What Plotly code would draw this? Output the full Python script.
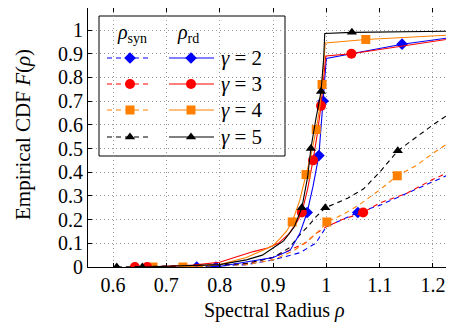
import plotly.graph_objects as go

# ---------------- data ----------------
gammas = [2, 3, 4, 5]
colors = {2: "#0000ff", 3: "#ff0000", 4: "#ff8000", 5: "#000000"}
symbols = {2: "diamond", 3: "circle", 4: "square", 5: "triangle-up"}
msize = {2: 9, 3: 10, 4: 9, 5: 9}

# rho_rd (solid) empirical CDFs
rd_x = {
    5: [0.655, 0.70, 0.80, 0.85, 0.88, 0.90, 0.92, 0.94, 0.954, 0.965, 0.971, 0.98, 0.99, 0.995, 0.997, 1.048, 1.24],
    4: [0.731, 0.80, 0.85, 0.88, 0.90, 0.913, 0.925, 0.936, 0.95, 0.962, 0.972, 0.981, 0.988, 0.992, 0.996, 0.998, 1.074, 1.24],
    3: [0.664, 0.75, 0.80, 0.863, 0.89, 0.91, 0.93, 0.945, 0.954, 0.965, 0.975, 0.983, 0.990, 0.995, 0.999, 1.047, 1.24],
    2: [0.793, 0.85, 0.90, 0.932, 0.95, 0.964, 0.975, 0.986, 0.994, 0.998, 1.0, 1.142, 1.24],
}
rd_F = {
    5: [0.0, 0.003, 0.01, 0.03, 0.05, 0.08, 0.11, 0.17, 0.25, 0.38, 0.50, 0.62, 0.74, 0.88, 0.985, 0.99, 0.995],
    4: [0.0, 0.01, 0.04, 0.07, 0.09, 0.12, 0.15, 0.19, 0.28, 0.39, 0.48, 0.58, 0.68, 0.77, 0.90, 0.945, 0.96, 0.98],
    3: [0.0, 0.008, 0.02, 0.065, 0.08, 0.10, 0.14, 0.19, 0.23, 0.33, 0.45, 0.56, 0.68, 0.80, 0.89, 0.90, 0.965],
    2: [0.0, 0.02, 0.04, 0.07, 0.14, 0.23, 0.34, 0.47, 0.70, 0.82, 0.88, 0.94, 0.97],
}
rd_marks = {5: [0, 8, 10, 12, 15], 4: [0, 7, 9, 11, 13, 16], 3: [0, 8, 10, 12, 15], 2: [0, 5, 7, 8, 11]}

# rho_syn (dashed) empirical CDFs
syn_x = {
    5: [0.607, 0.70, 0.80, 0.85, 0.90, 0.93, 0.95, 0.965, 0.98, 0.998, 1.02, 1.04, 1.07, 1.10, 1.134, 1.17, 1.20, 1.24],
    4: [0.675, 0.75, 0.85, 0.90, 0.94, 0.97, 0.99, 1.001, 1.03, 1.06, 1.10, 1.133, 1.17, 1.20, 1.24],
    3: [0.641, 0.75, 0.85, 0.90, 0.93, 0.96, 0.98, 1.0, 1.03, 1.069, 1.10, 1.15, 1.20, 1.24],
    2: [0.757, 0.85, 0.90, 0.95, 0.98, 1.0, 1.03, 1.059, 1.10, 1.15, 1.20, 1.24],
}
syn_F = {
    5: [0.0, 0.003, 0.008, 0.015, 0.04, 0.08, 0.135, 0.17, 0.21, 0.25, 0.27, 0.29, 0.33, 0.40, 0.49, 0.55, 0.60, 0.66],
    4: [0.0, 0.002, 0.01, 0.03, 0.07, 0.12, 0.16, 0.19, 0.22, 0.26, 0.325, 0.385, 0.43, 0.48, 0.54],
    3: [0.0, 0.003, 0.015, 0.04, 0.07, 0.10, 0.14, 0.17, 0.20, 0.23, 0.27, 0.31, 0.37, 0.41],
    2: [0.0, 0.01, 0.03, 0.06, 0.10, 0.17, 0.20, 0.23, 0.26, 0.31, 0.36, 0.40],
}
syn_marks = {5: [0, 9, 14], 4: [0, 7, 11], 3: [0, 9], 2: [0, 7]}

x_ticks = [0.6, 0.7, 0.8, 0.9, 1.0, 1.1, 1.2]
x_tick_labels = ["0.6", "0.7", "0.8", "0.9", "1", "1.1", "1.2"]
y_ticks = [0, 0.1, 0.2, 0.3, 0.4, 0.5, 0.6, 0.7, 0.8, 0.9, 1.0]
y_tick_labels = ["0", "0.1", "0.2", "0.3", "0.4", "0.5", "0.6", "0.7", "0.8", "0.9", "1"]

FONT = "Liberation Serif"
OFF = 8  # page body margin of the browser
W, H = 454 - OFF, 329 - OFF
# plot area in window pixels: left 88, top 8, right 454, bottom 267
PL, PT, PR, PB = 88, 8, 454, 267
L, T, R, B = PL - OFF, PT - OFF, 0, (H + OFF) - PB


def xf(px):
    return (px - PL) / (PR - PL)


def yf(py):
    return (PB - py) / (PB - PT)


fig = go.Figure()


def sizes(n, marks, s):
    return [s if i in marks else 0 for i in range(n)]


DASH = "5px,4px"
for g in gammas:
    fig.add_trace(go.Scatter(
        x=syn_x[g], y=syn_F[g], mode="lines+markers",
        line=dict(color=colors[g], width=1.1, dash=DASH),
        marker=dict(symbol=symbols[g], size=sizes(len(syn_x[g]), syn_marks[g], msize[g]),
                    color=colors[g], opacity=1, line=dict(width=0)),
        showlegend=False))
for g in gammas:
    fig.add_trace(go.Scatter(
        x=rd_x[g], y=rd_F[g], mode="lines+markers",
        line=dict(color=colors[g], width=1.1),
        marker=dict(symbol=symbols[g], size=sizes(len(rd_x[g]), rd_marks[g], msize[g]),
                    color=colors[g], opacity=1, line=dict(width=0)),
        showlegend=False))

# ---------- manual legend on a pixel overlay axis ----------
row_y = [58, 84, 110, 137]
for g, yy in zip(gammas, row_y):
    fig.add_trace(go.Scatter(
        x=[107, 130, 148], y=[yy, yy, yy], xaxis="x2", yaxis="y2", mode="lines+markers",
        line=dict(color=colors[g], width=1.1, dash=DASH),
        marker=dict(symbol=symbols[g], size=[0, msize[g], 0], color=colors[g], opacity=1, line=dict(width=0)),
        showlegend=False))
    fig.add_trace(go.Scatter(
        x=[169, 191, 214], y=[yy, yy, yy], xaxis="x2", yaxis="y2", mode="lines+markers",
        line=dict(color=colors[g], width=1.1),
        marker=dict(symbol=symbols[g], size=[0, msize[g], 0], color=colors[g], opacity=1, line=dict(width=0)),
        showlegend=False))

shapes = [dict(type="rect", xref="x2", yref="y2", x0=99, x1=285, y0=16, y1=156,
               line=dict(color="black", width=1), fillcolor="white", layer="below")]
annotations = []
annotations.append(dict(xref="x2", yref="y2", x=132, y=33, text="<i>ρ</i><sub>syn</sub>",
                        showarrow=False, font=dict(family=FONT, size=20, color="black")))
annotations.append(dict(xref="x2", yref="y2", x=188, y=33, text="<i>ρ</i><sub>rd</sub>",
                        showarrow=False, font=dict(family=FONT, size=20, color="black")))
for g, yy in zip(gammas, row_y):
    annotations.append(dict(xref="x2", yref="y2", x=219, y=yy, xanchor="left", yanchor="middle",
                            text=f"<i>γ</i> = {g}",
                            showarrow=False, font=dict(family=FONT, size=21, color="black")))
# axis titles
annotations.append(dict(xref="paper", yref="paper", x=xf(274), y=yf(310),
                        xanchor="center", yanchor="middle",
                        text="Spectral Radius <i>ρ</i>", showarrow=False,
                        font=dict(family=FONT, size=20, color="black")))
annotations.append(dict(xref="paper", yref="paper", x=xf(23), y=yf(135),
                        xanchor="center", yanchor="middle",
                        text="Empirical CDF <i>F</i>(<i>ρ</i>)", showarrow=False, textangle=-90,
                        font=dict(family=FONT, size=21, color="black")))

grid = dict(showgrid=True, gridcolor="#9a9a9a", griddash="1px,3px", gridwidth=1)
fig.update_layout(
    width=W, height=H, margin=dict(l=L, r=R, t=T, b=B, autoexpand=False),
    plot_bgcolor="white", paper_bgcolor="white",
    font=dict(family=FONT, size=20, color="black"),
    xaxis=dict(range=[0.5531, 1.2394], tickvals=x_ticks, ticktext=x_tick_labels,
               showline=True, linecolor="black", linewidth=1, mirror="ticks",
               ticks="inside", ticklen=4, tickcolor="black", automargin=False,
               zeroline=False, tickfont=dict(family=FONT, size=20), **grid),
    yaxis=dict(range=[0, (PB - PT) / 237.0], tickvals=y_ticks, ticktext=y_tick_labels,
               showline=True, linecolor="black", linewidth=1, mirror=False,
               ticks="inside", ticklen=4, tickcolor="black", automargin=False,
               zeroline=False, tickfont=dict(family=FONT, size=20), **grid),
    xaxis2=dict(overlaying="x", range=[PL, PR], visible=False, fixedrange=True),
    yaxis2=dict(overlaying="y", range=[PB, PT], visible=False, fixedrange=True),
    shapes=shapes, annotations=annotations,
)

fig.write_html("out.html")
